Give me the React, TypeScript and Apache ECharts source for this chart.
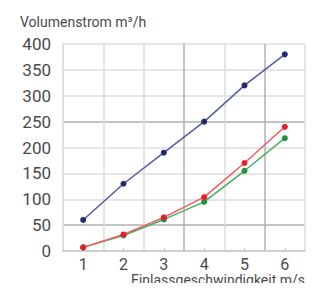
import React, { useEffect, useRef } from "react";
import * as echarts from "echarts";

const categories = ["1", "2", "3", "4", "5", "6"];
const blueValues = [60, 130, 190, 250, 320, 380];
const redValues = [7, 32, 65, 104, 170, 240];
const greenValues = [7, 30, 61, 95, 155, 218];
const yTitle = "Volumenstrom m³/h";
const xTitle = "Einlassgeschwindigkeit m/s";

const FONT = "Roboto";
const TXT = "#4a4a4a";
const LIGHT = "#dcdcdc";
const DARK = "#b0b0b0";

export default function App() {
  const ref = useRef<HTMLDivElement>(null);
  useEffect(() => {
    if (!ref.current) return;
    const chart = echarts.init(ref.current, null, { renderer: "svg" });
    const mk = (name: string, data: number[], line: string, dot: string) => ({
      name,
      type: "line",
      data,
      symbol: "circle",
      symbolSize: 6,
      lineStyle: { color: line, width: 1.5 },
      itemStyle: { color: dot },
      z: 3,
    });
    chart.setOption({
      animation: false,
      title: {
        text: yTitle,
        left: 15,
        top: 10,
        textStyle: { fontFamily: FONT, fontSize: 14, fontWeight: "normal", color: TXT },
      },
      grid: { left: 63, right: 13, top: 44, bottom: 40, containLabel: false },
      xAxis: {
        type: "category",
        data: categories,
        boundaryGap: true,
        axisLine: { show: true, lineStyle: { color: "#c8c8c8", width: 1.5 } },
        axisTick: { show: true, inside: true, length: 3, alignWithLabel: true, lineStyle: { color: "#c8c8c8" } },
        axisLabel: { fontFamily: FONT, fontSize: 16, lineHeight: 12, color: TXT, margin: 7 },
        splitLine: {
          show: true,
          lineStyle: { color: [LIGHT, LIGHT, LIGHT, DARK, LIGHT, DARK, LIGHT], width: 1.5 },
        },
      },
      yAxis: {
        type: "value",
        min: 0,
        max: 400,
        interval: 50,
        axisLine: { show: true, lineStyle: { color: LIGHT, width: 1.5 } },
        axisTick: { show: false },
        axisLabel: { fontFamily: FONT, fontSize: 17, color: TXT, margin: 12 },
        splitLine: {
          show: true,
          lineStyle: { color: [LIGHT, DARK, LIGHT, LIGHT, LIGHT, DARK, LIGHT, LIGHT, LIGHT], width: 1.5 },
        },
      },
      graphic: [
        {
          type: "text",
          right: 13,
          top: 273,
          style: { text: xTitle, fontFamily: FONT, fontSize: 14, lineHeight: 14, fill: TXT },
        },
      ],
      series: [
        mk("blue", blueValues, "#555aa4", "#222a6e"),
        mk("green", greenValues, "#45b060", "#21903f"),
        mk("red", redValues, "#f45a5a", "#e61e28"),
      ],
    });
    return () => chart.dispose();
  }, []);
  return <div ref={ref} style={{ width: 318, height: 291, margin: -8 }} />;
}
